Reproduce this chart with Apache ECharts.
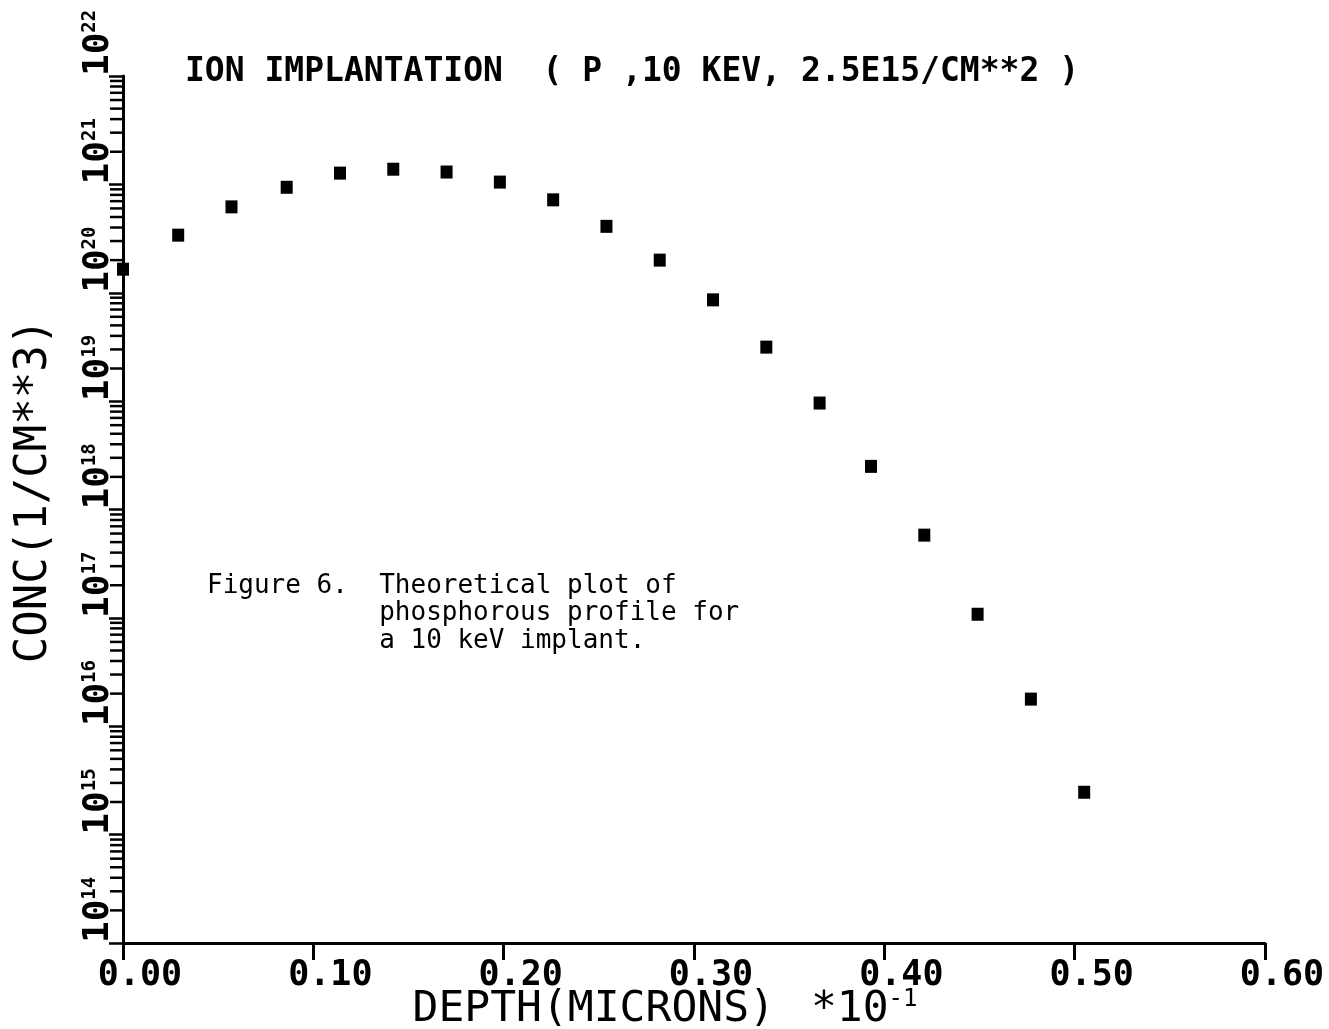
<!DOCTYPE html>
<html>
<head>
<meta charset="utf-8">
<script src="https://cdn.jsdelivr.net/npm/echarts@6/dist/echarts.min.js"></script>
<style>
  html, body { margin: 0; padding: 0; background: #ffffff; }
  #chart { width: 1329px; height: 1029px; }
</style>
</head>
<body>
<div id="chart"></div>
<script>
// Phosphorus implant profile: depth (x 10^-1 microns) vs concentration (1/cm^3)
const depth = [0.000, 0.029, 0.057, 0.086, 0.114, 0.142, 0.170, 0.198, 0.226, 0.254,
               0.282, 0.310, 0.338, 0.366, 0.393, 0.421, 0.449, 0.477, 0.505];
const conc  = [1.65e20, 3.4e20, 6.2e20, 9.4e20, 1.27e21, 1.38e21, 1.30e21, 1.05e21, 7.2e20, 4.1e20,
               2.0e20, 8.6e19, 3.15e19, 9.6e18, 2.5e18, 5.8e17, 1.08e17, 1.78e16, 2.46e15];

// Axis tick lists
const depthTicks = [0.00, 0.10, 0.20, 0.30, 0.40, 0.50, 0.60];
const decades = [14, 15, 16, 17, 18, 19, 20, 21, 22];
const minorMultipliers = [2, 3, 4, 5, 6, 7, 8, 9];

const titleText = 'ION IMPLANTATION  ( P ,10 KEV, 2.5E15/CM**2 )';
const captionLines = [
  'Figure 6.  Theoretical plot of',
  '           phosphorous profile for',
  '           a 10 keV implant.'
];

const points = depth.map((d, i) => [d, conc[i]]);

// minor log ticks (2..9 within each decade)
const minorTicks = [];
decades.slice(0, -1).forEach(e => {
  minorMultipliers.forEach(m => minorTicks.push([0, m * Math.pow(10, e)]));
});

const plotFont = '"DejaVu Sans Mono", monospace';
const ink = '#000000';

const chart = echarts.init(document.getElementById('chart'), null, { renderer: 'canvas' });

chart.setOption({
  backgroundColor: '#ffffff',
  animation: false,
  title: {
    text: titleText,
    left: 180,
    top: 51,
    textStyle: { fontFamily: plotFont, fontSize: 33, fontWeight: 'bold', color: ink }
  },
  grid: { left: 123, right: 64, top: 76, bottom: 86, containLabel: false, outerBoundsMode: 'none' },
  xAxis: {
    type: 'value',
    min: depthTicks[0],
    max: depthTicks[depthTicks.length - 1],
    interval: 0.1,
    splitLine: { show: false },
    axisLine: { show: true, onZero: false, lineStyle: { color: ink, width: 3 } },
    axisTick: { show: true, inside: false, length: 17, lineStyle: { color: ink, width: 3 } },
    axisLabel: {
      margin: 15,
      fontFamily: plotFont, fontSize: 35, fontWeight: 'bold', color: ink,
      padding: [0, 0, 0, 34],
      formatter: v => v.toFixed(2)
    },
    name: '{n|DEPTH(MICRONS)}{e|*10}{s|-1}',
    nameLocation: 'middle',
    nameMoveOverlap: false,
    nameGap: 45,
    nameTextStyle: {
      padding: [0, 58, 0, 0],
      rich: {
        n: { fontFamily: plotFont, fontSize: 43, color: ink },
        e: { fontFamily: plotFont, fontSize: 43, color: ink, padding: [0, 0, 0, 36] },
        s: { fontFamily: plotFont, fontSize: 24, color: ink, verticalAlign: 'top' }
      }
    }
  },
  yAxis: {
    type: 'log',
    logBase: 10,
    min: Math.pow(10, decades[0]),
    max: Math.pow(10, decades[decades.length - 1]),
    interval: 1,
    splitLine: { show: false },
    minorTick: { show: false },
    axisLine: { show: true, lineStyle: { color: ink, width: 3 } },
    axisTick: { show: true, inside: false, length: 14, lineStyle: { color: ink, width: 2.5 } },
    axisLabel: {
      rotate: 90,
      align: 'left',
      verticalAlign: 'bottom',
      margin: 6,
      showMinLabel: true,
      showMaxLabel: true,
      formatter: v => '{b|10}{s|' + Math.round(Math.log10(v)) + '}',
      rich: {
        b: { fontFamily: plotFont, fontSize: 36, fontWeight: 'bold', color: ink },
        s: { fontFamily: plotFont, fontSize: 19, fontWeight: 'bold', color: ink, verticalAlign: 'top' }
      }
    },
    name: 'CONC(1/CM**3)',
    nameLocation: 'middle',
    nameRotate: 90,
    nameMoveOverlap: false,
    nameGap: 66,
    nameTextStyle: {
      fontFamily: plotFont, fontSize: 44, color: ink,
      padding: [0, 0, 0, 37]
    }
  },
  graphic: [{
    type: 'text',
    left: 207,
    top: 572,
    style: {
      text: captionLines.join('\n'),
      font: '26px "DejaVu Sans Mono", monospace',
      lineHeight: 27.5,
      fill: ink
    }
  }],
  series: [
    {
      name: 'minor ticks',
      type: 'custom',
      silent: true,
      clip: false,
      data: minorTicks,
      renderItem: (params, api) => {
        const p = api.coord([api.value(0), api.value(1)]);
        return {
          type: 'line',
          shape: { x1: p[0] - 13, y1: p[1], x2: p[0], y2: p[1] },
          style: { stroke: ink, lineWidth: 2.5 }
        };
      },
      z: 1
    },
    {
      name: 'P concentration',
      type: 'scatter',
      symbol: 'rect',
      symbolSize: [12, 13],
      itemStyle: { color: ink, opacity: 1 },
      data: points,
      z: 5
    }
  ]
});
</script>
</body>
</html>
